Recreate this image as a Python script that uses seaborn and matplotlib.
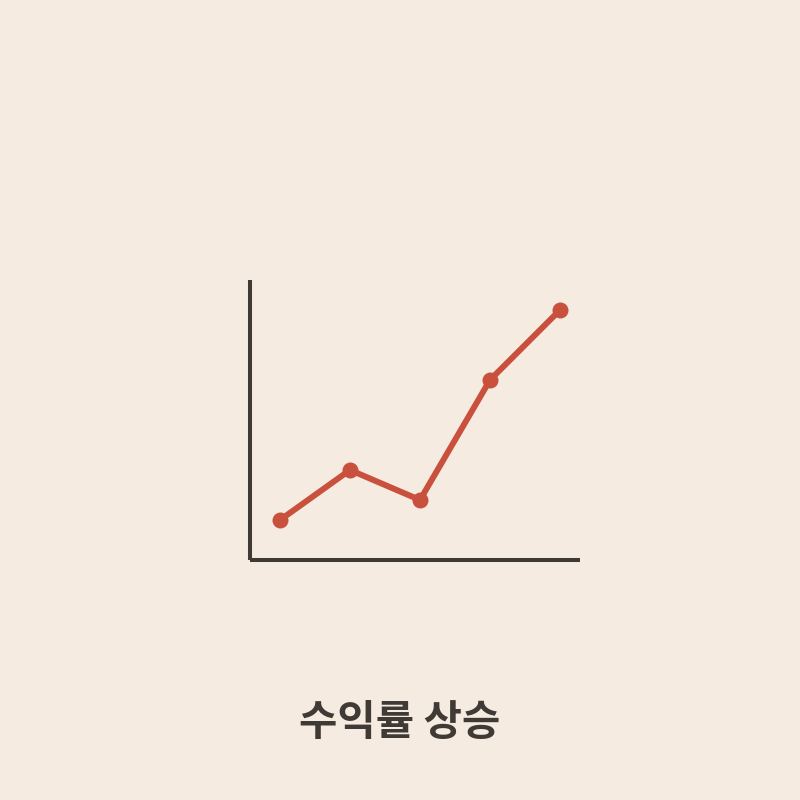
import pandas as pd
import matplotlib
matplotlib.use("Agg")
import matplotlib.pyplot as plt
import seaborn as sns

# data
periods = [0, 1, 2, 3, 4]
returns = [4, 9, 6, 18, 25]
title = "수익률 상승"

bg = "#F5EBE0"
ink = "#3F3A35"
red = "#C8503C"

sns.set_style("white")
plt.rcParams['font.family'] = ['Noto Sans CJK KR', 'DejaVu Sans']

df = pd.DataFrame({'period': periods, 'ret': returns})

fig = plt.figure(figsize=(8, 8), dpi=100, facecolor=bg)
ax = fig.add_axes([0.3125, 0.3, 0.4125, 0.35])
ax.set_facecolor(bg)

sns.lineplot(data=df, x='period', y='ret', ax=ax, color=red, linewidth=4.3,
             marker='o', markersize=11.5, markeredgewidth=0, solid_capstyle='round')

ax.set_xlim(-30 / 70, 4 + 20 / 70)
ax.set_ylim(0, 28)
ax.set(xlabel='', ylabel='', xticks=[], yticks=[])
sns.despine(ax=ax)
for side in ['left', 'bottom']:
    ax.spines[side].set_linewidth(2.9)
    ax.spines[side].set_color(ink)
    ax.spines[side].set_capstyle('butt')

fig.text(0.5, 1 - 723 / 800, title, ha='center', va='center',
         fontsize=30, fontweight='bold', color=ink)

fig.savefig("out.png", dpi=100, facecolor=bg)
